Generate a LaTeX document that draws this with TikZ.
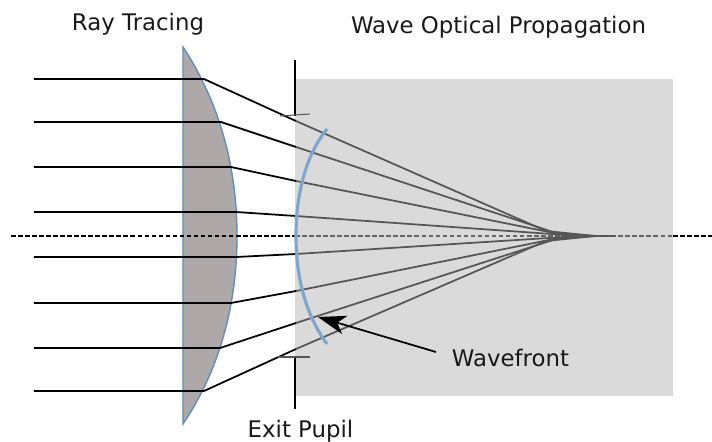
\documentclass[tikz,border=0pt]{standalone}
\usepackage{fontspec}
\setmainfont{DejaVu Sans}
\usetikzlibrary{arrows.meta}
\definecolor{lensgray}{HTML}{AEA9A8}
\definecolor{lensblue}{HTML}{5F8FB8}
\definecolor{wavefrontblue}{HTML}{7FA6CC}
\definecolor{fieldgray}{HTML}{DADADA}
\definecolor{raygray}{HTML}{565656}
\tikzset{
    label text/.style={font=\fontsize{6.5pt}{8pt}\selectfont, inner sep=0pt, anchor=base, text=black!90},
    ray/.style={black, line width=0.5pt},
    ray field/.style={raygray, line width=0.5pt},
    pupil/.style={black, line width=0.45pt},
    axis line/.style={line width=0.32pt, dash pattern=on 1.3pt off 0.7pt},
}
\begin{document}
\begin{tikzpicture}[scale=1]
        \useasboundingbox (0,0) rectangle (7.12,4.41);
        % wave optical region
        \fill[fieldgray] (2.95,0.45) rectangle (6.73,3.62);
        % lens
        \draw[lensblue, line width=0.4pt, fill=lensgray] (1.83,3.94)
            .. controls (2.04,3.62) and (2.37,3.00) .. (2.37,2.05)
            .. controls (2.37,1.10) and (2.04,0.48) .. (1.83,0.17) -- cycle;
        % axis
        \coordinate (axis left) at (0.11,2.05);
        \coordinate (axis focus) at (6.15,2.05);
        \coordinate (axis edge) at (6.73,2.05);
        \coordinate (axis right) at (7.12,2.05);
        \draw[axis line, black] (axis left) -- (2.95,2.05);
        \draw[axis line, black!60] (2.95,2.05) -- (axis edge);
        \draw[axis line, black] (axis edge) -- (axis right);
        \draw[raygray, line width=0.7pt] (5.75,2.05) -- (axis focus);
        % rays
        \foreach \ya/\xl/\yp/\xc/\yc in {3.62/2.04/3.20/5.46/2.10, 3.19/2.21/2.94/5.56/2.08,
                2.74/2.31/2.60/5.64/2.06, 2.29/2.36/2.25/5.80/2.05,
                1.84/2.36/1.87/5.80/2.05, 1.38/2.31/1.50/5.64/2.04,
                0.93/2.20/1.18/5.56/2.02, 0.50/2.04/0.92/5.46/2.00}{
            \coordinate (start) at (0.34,\ya);
            \coordinate (lens) at (\xl,\ya);
            \coordinate (pupil) at (2.96,\yp);
            \coordinate (caustic) at (\xc,\yc);
            \draw[ray] (start) -- (lens) -- (pupil);
            \draw[ray field] (pupil) -- (caustic) -- (5.95,2.05);
        }
        % exit pupil
        \draw[pupil] (2.95,3.81) -- (2.95,3.25);
        \draw[pupil] (2.95,0.84) -- (2.95,0.32);
        \draw[raygray, line width=0.3pt] (2.80,3.25) -- (3.10,3.27);
        \draw[raygray, line width=0.3pt] (2.78,0.84) -- (3.10,0.84);
        % wavefront
        \draw[wavefrontblue, line width=0.9pt] (3.27,3.12)
            .. controls (3.05,2.85) and (2.96,2.45) .. (2.96,2.05)
            .. controls (2.96,1.65) and (3.05,1.27) .. (3.27,0.97);
        % labels
        \node[label text] (ray tracing) at (1.38,4.11) {Ray Tracing};
        \node[label text] (wave optical) at (4.985,4.08) {Wave Optical Propagation};
        \node[label text] (exit pupil) at (3.005,0.04) {Exit Pupil};
        \node[label text] (wavefront) at (5.105,0.74) {Wavefront};
        \coordinate (wavefront tip) at (3.18,1.24);
        \draw[-{Stealth[length=2.8mm,width=1.9mm,inset=0.8mm]}, black, line width=0.5pt] (4.36,0.89) -- (wavefront tip);
    \end{tikzpicture}
\end{document}
